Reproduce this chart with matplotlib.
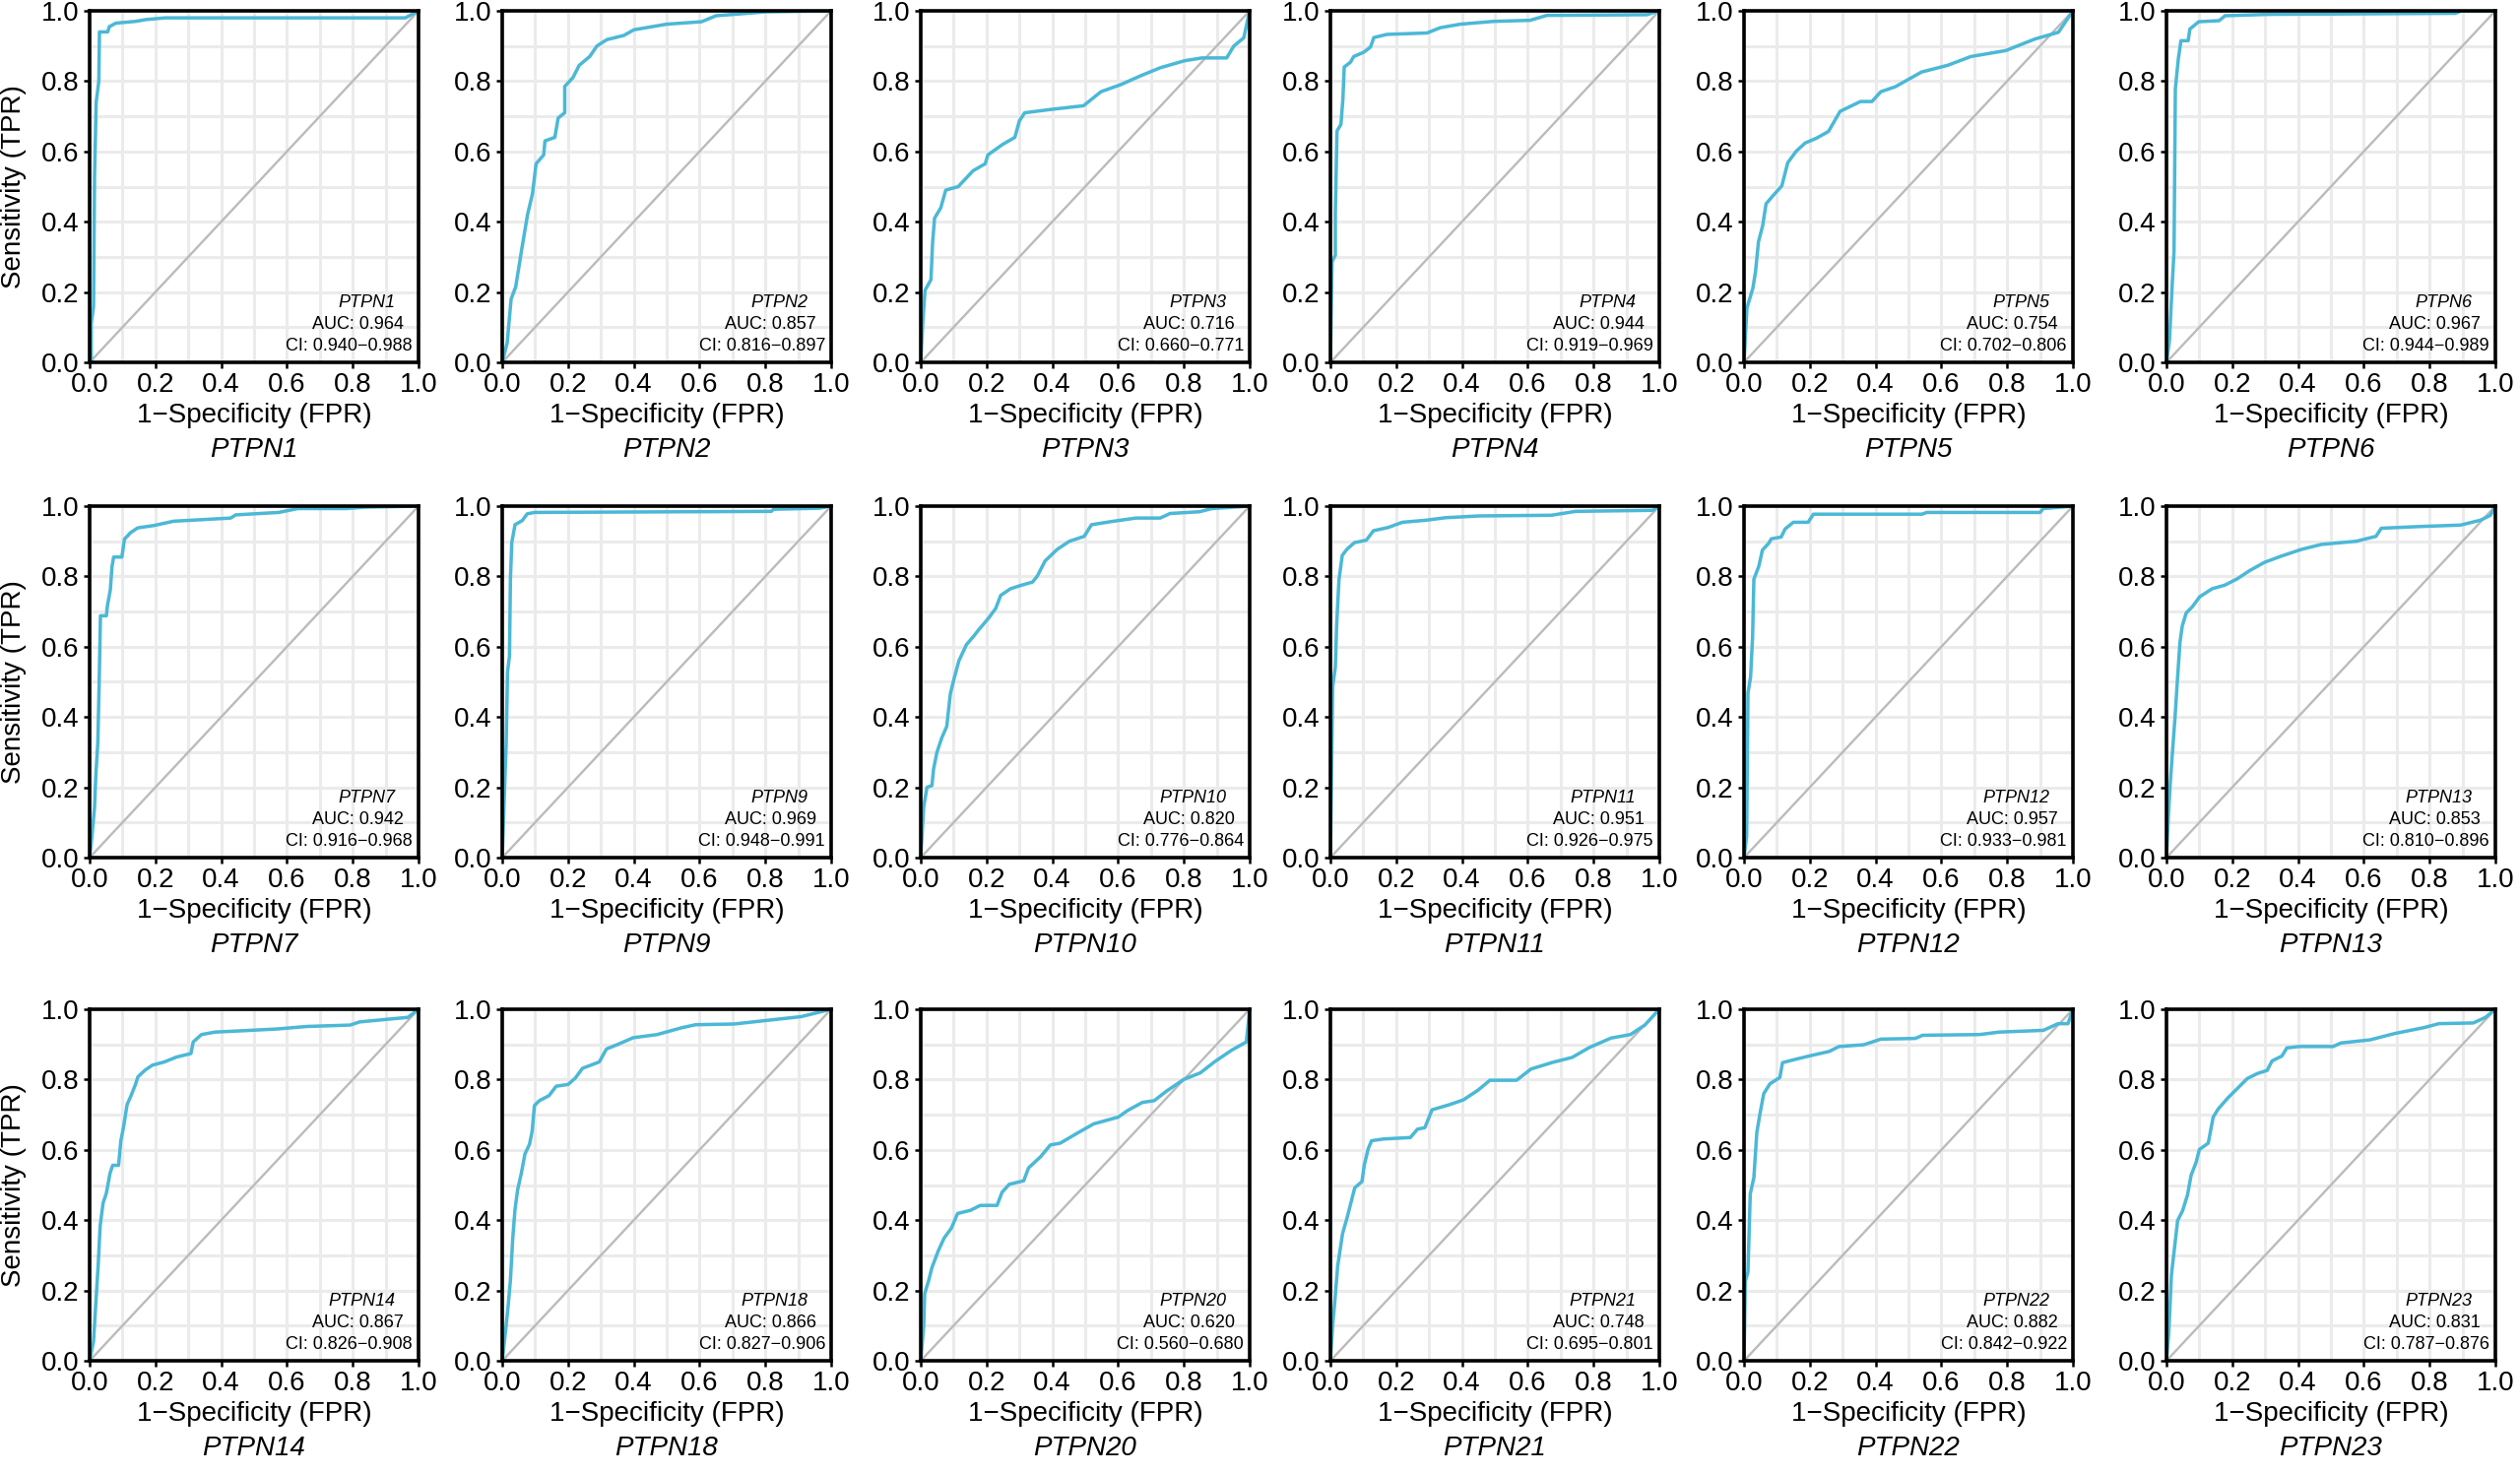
import matplotlib.pyplot as plt

plt.rcParams['font.family'] = ['Liberation Sans', 'DejaVu Sans']

# genes, AUC and confidence intervals
genes = ["PTPN1", "PTPN2", "PTPN3", "PTPN4", "PTPN5", "PTPN6",
         "PTPN7", "PTPN9", "PTPN10", "PTPN11", "PTPN12", "PTPN13",
         "PTPN14", "PTPN18", "PTPN20", "PTPN21", "PTPN22", "PTPN23"]
auc = ["0.964", "0.857", "0.716", "0.944", "0.754", "0.967",
       "0.942", "0.969", "0.820", "0.951", "0.957", "0.853",
       "0.867", "0.866", "0.620", "0.748", "0.882", "0.831"]
ci_low = ["0.940", "0.816", "0.660", "0.919", "0.702", "0.944",
          "0.916", "0.948", "0.776", "0.926", "0.933", "0.810",
          "0.826", "0.827", "0.560", "0.695", "0.842", "0.787"]
ci_high = ["0.988", "0.897", "0.771", "0.969", "0.806", "0.989",
           "0.968", "0.991", "0.864", "0.975", "0.981", "0.896",
           "0.908", "0.906", "0.680", "0.801", "0.922", "0.876"]

# ROC curves (1-specificity, sensitivity)
PTPN1_fpr = [0, 0.005, 0.005, 0.012, 0.015, 0.02, 0.028, 0.03, 0.055, 0.06, 0.08, 0.14, 0.17, 0.23, 0.96, 1.0]
PTPN1_tpr = [0, 0.0, 0.11, 0.16, 0.53, 0.74, 0.80, 0.94, 0.94, 0.955, 0.965, 0.97, 0.975, 0.98, 0.98, 1.0]

PTPN2_fpr = [0, 0.015, 0.027, 0.041, 0.059, 0.077, 0.092, 0.103, 0.126, 0.13, 0.16, 0.17, 0.19, 0.19, 0.215,
             0.234, 0.266, 0.288, 0.318, 0.37, 0.40, 0.50, 0.606, 0.65, 0.80, 1.0]
PTPN2_tpr = [0, 0.055, 0.18, 0.215, 0.32, 0.42, 0.48, 0.565, 0.59, 0.63, 0.64, 0.695, 0.71, 0.785, 0.81,
             0.845, 0.87, 0.90, 0.918, 0.93, 0.946, 0.962, 0.969, 0.986, 0.997, 1.0]

PTPN3_fpr = [0, 0.006, 0.013, 0.031, 0.036, 0.042, 0.061, 0.076, 0.114, 0.159, 0.196, 0.204, 0.249, 0.286,
             0.30, 0.316, 0.40, 0.495, 0.548, 0.608, 0.668, 0.728, 0.802, 0.855, 0.93, 0.952, 0.982, 1.0]
PTPN3_tpr = [0, 0.11, 0.205, 0.235, 0.34, 0.41, 0.44, 0.49, 0.50, 0.545, 0.565, 0.59, 0.62, 0.64,
             0.687, 0.71, 0.72, 0.73, 0.77, 0.79, 0.815, 0.838, 0.858, 0.866, 0.866, 0.90, 0.923, 1.0]

PTPN4_fpr = [0, 0.005, 0.015, 0.015, 0.02, 0.032, 0.038, 0.042, 0.061, 0.071, 0.101, 0.122, 0.132, 0.172,
             0.294, 0.334, 0.395, 0.496, 0.607, 0.658, 0.962, 1.0]
PTPN4_tpr = [0, 0.286, 0.305, 0.425, 0.658, 0.677, 0.749, 0.84, 0.854, 0.87, 0.882, 0.897, 0.924, 0.933,
             0.937, 0.952, 0.962, 0.97, 0.973, 0.987, 0.989, 1.0]

PTPN5_fpr = [0, 0.009, 0.027, 0.035, 0.044, 0.057, 0.067, 0.088, 0.115, 0.133, 0.159, 0.186, 0.221, 0.257,
             0.292, 0.354, 0.389, 0.416, 0.46, 0.54, 0.619, 0.69, 0.796, 0.885, 0.956, 1.0]
PTPN5_tpr = [0, 0.155, 0.211, 0.258, 0.343, 0.39, 0.451, 0.474, 0.502, 0.568, 0.601, 0.624, 0.638, 0.657,
             0.714, 0.742, 0.742, 0.770, 0.784, 0.826, 0.845, 0.87, 0.887, 0.92, 0.939, 1.0]

PTPN6_fpr = [0, 0.009, 0.018, 0.023, 0.027, 0.036, 0.044, 0.066, 0.071, 0.098, 0.16, 0.178, 0.311, 0.879, 0.897, 1.0]
PTPN6_tpr = [0, 0.061, 0.231, 0.316, 0.778, 0.863, 0.915, 0.915, 0.948, 0.969, 0.972, 0.986, 0.99, 0.993, 1.0, 1.0]

PTPN7_fpr = [0, 0.007, 0.015, 0.019, 0.025, 0.029, 0.033, 0.051, 0.054, 0.063, 0.068, 0.073, 0.098, 0.106,
             0.124, 0.146, 0.197, 0.255, 0.429, 0.444, 0.575, 0.633, 0.779, 0.837, 1.0]
PTPN7_tpr = [0, 0.06, 0.143, 0.235, 0.328, 0.494, 0.688, 0.688, 0.716, 0.762, 0.827, 0.855, 0.855, 0.906,
             0.924, 0.938, 0.945, 0.957, 0.966, 0.975, 0.982, 0.993, 0.993, 0.997, 1.0]

PTPN9_fpr = [0, 0.007, 0.012, 0.016, 0.022, 0.025, 0.029, 0.039, 0.061, 0.076, 0.098, 0.818, 0.825, 0.964, 1.0]
PTPN9_tpr = [0, 0.194, 0.323, 0.527, 0.573, 0.795, 0.896, 0.947, 0.959, 0.978, 0.982, 0.985, 0.991, 0.994, 1.0]

PTPN10_fpr = [0, 0.009, 0.019, 0.034, 0.039, 0.049, 0.064, 0.079, 0.09, 0.101, 0.116, 0.139, 0.161, 0.176,
              0.206, 0.228, 0.243, 0.273, 0.303, 0.34, 0.355, 0.378, 0.415, 0.452, 0.497, 0.519, 0.579,
              0.654, 0.728, 0.758, 0.848, 0.885, 1.0]
PTPN10_tpr = [0, 0.145, 0.2, 0.205, 0.252, 0.299, 0.341, 0.373, 0.466, 0.508, 0.56, 0.606, 0.63, 0.648,
              0.681, 0.709, 0.746, 0.765, 0.774, 0.784, 0.802, 0.844, 0.877, 0.9, 0.914, 0.947, 0.956,
              0.966, 0.966, 0.979, 0.984, 0.993, 1.0]

PTPN11_fpr = [0, 0.007, 0.015, 0.019, 0.026, 0.036, 0.051, 0.073, 0.109, 0.131, 0.175, 0.219, 0.292, 0.35,
              0.453, 0.672, 0.745, 0.98, 1.0]
PTPN11_tpr = [0, 0.487, 0.542, 0.662, 0.79, 0.86, 0.878, 0.896, 0.903, 0.93, 0.939, 0.954, 0.96, 0.967,
              0.972, 0.974, 0.985, 0.988, 1.0]

PTPN12_fpr = [0, 0.008, 0.012, 0.02, 0.026, 0.03, 0.045, 0.056, 0.075, 0.083, 0.113, 0.125, 0.15, 0.195,
              0.211, 0.541, 0.556, 0.9, 0.91, 1.0]
PTPN12_tpr = [0, 0.06, 0.468, 0.514, 0.625, 0.792, 0.829, 0.875, 0.894, 0.907, 0.912, 0.935, 0.954, 0.954,
              0.977, 0.977, 0.982, 0.982, 0.993, 1.0]

PTPN13_fpr = [0, 0.006, 0.011, 0.018, 0.026, 0.033, 0.041, 0.048, 0.06, 0.079, 0.101, 0.139, 0.177, 0.215,
              0.252, 0.298, 0.35, 0.411, 0.471, 0.577, 0.637, 0.653, 0.773, 0.894, 0.955, 0.985, 1.0]
PTPN13_tpr = [0, 0.121, 0.204, 0.297, 0.399, 0.501, 0.612, 0.659, 0.696, 0.714, 0.742, 0.765, 0.775, 0.793,
              0.816, 0.84, 0.858, 0.877, 0.891, 0.9, 0.914, 0.937, 0.942, 0.946, 0.96, 0.974, 1.0]

PTPN14_fpr = [0, 0.012, 0.018, 0.026, 0.032, 0.041, 0.051, 0.062, 0.07, 0.088, 0.095, 0.103, 0.114, 0.125,
              0.139, 0.147, 0.169, 0.191, 0.227, 0.264, 0.308, 0.315, 0.34, 0.381, 0.469, 0.572, 0.66,
              0.792, 0.821, 0.968, 1.0]
PTPN14_tpr = [0, 0.056, 0.15, 0.271, 0.383, 0.449, 0.477, 0.533, 0.556, 0.556, 0.626, 0.664, 0.729, 0.752,
              0.785, 0.808, 0.827, 0.841, 0.85, 0.864, 0.874, 0.907, 0.928, 0.935, 0.939, 0.944, 0.951,
              0.955, 0.964, 0.977, 1.0]

PTPN18_fpr = [0, 0.01, 0.018, 0.025, 0.032, 0.039, 0.047, 0.058, 0.069, 0.083, 0.091, 0.098, 0.113, 0.142,
              0.164, 0.2, 0.222, 0.244, 0.295, 0.317, 0.354, 0.398, 0.471, 0.544, 0.588, 0.705, 0.792,
              0.909, 1.0]
PTPN18_tpr = [0, 0.083, 0.156, 0.23, 0.349, 0.432, 0.487, 0.533, 0.588, 0.616, 0.653, 0.726, 0.74, 0.754,
              0.781, 0.786, 0.804, 0.832, 0.85, 0.887, 0.901, 0.919, 0.928, 0.947, 0.956, 0.958, 0.967,
              0.979, 1.0]

PTPN20_fpr = [0, 0.009, 0.012, 0.024, 0.034, 0.053, 0.071, 0.093, 0.112, 0.151, 0.181, 0.232, 0.247, 0.269,
              0.313, 0.328, 0.365, 0.394, 0.424, 0.475, 0.526, 0.6, 0.629, 0.674, 0.71, 0.747, 0.799,
              0.85, 0.894, 0.946, 0.99, 1.0]
PTPN20_tpr = [0, 0.098, 0.191, 0.228, 0.265, 0.312, 0.349, 0.377, 0.419, 0.428, 0.442, 0.442, 0.479, 0.502,
              0.512, 0.549, 0.581, 0.614, 0.619, 0.647, 0.674, 0.693, 0.712, 0.735, 0.74, 0.767, 0.8,
              0.819, 0.851, 0.884, 0.907, 1.0]

PTPN21_fpr = [0, 0.007, 0.015, 0.022, 0.037, 0.051, 0.074, 0.096, 0.103, 0.115, 0.125, 0.162, 0.243, 0.265,
              0.287, 0.309, 0.36, 0.404, 0.449, 0.485, 0.566, 0.61, 0.676, 0.735, 0.787, 0.853, 0.912,
              0.956, 1.0]
PTPN21_tpr = [0, 0.102, 0.186, 0.269, 0.362, 0.408, 0.492, 0.51, 0.557, 0.603, 0.626, 0.631, 0.635, 0.659,
              0.663, 0.714, 0.728, 0.742, 0.77, 0.798, 0.798, 0.83, 0.849, 0.863, 0.891, 0.918, 0.928,
              0.955, 1.0]

PTPN22_fpr = [0, 0.004, 0.012, 0.019, 0.03, 0.039, 0.049, 0.06, 0.079, 0.109, 0.117, 0.154, 0.207, 0.259,
              0.289, 0.364, 0.416, 0.521, 0.543, 0.716, 0.775, 0.91, 0.955, 0.985, 1.0]
PTPN22_tpr = [0, 0.226, 0.253, 0.475, 0.521, 0.65, 0.705, 0.76, 0.788, 0.806, 0.848, 0.857, 0.869, 0.88,
              0.894, 0.899, 0.915, 0.917, 0.926, 0.928, 0.935, 0.94, 0.959, 0.959, 1.0]

PTPN23_fpr = [0, 0.007, 0.015, 0.025, 0.034, 0.049, 0.064, 0.075, 0.09, 0.1, 0.127, 0.142, 0.157, 0.187,
              0.216, 0.246, 0.276, 0.306, 0.321, 0.351, 0.366, 0.403, 0.507, 0.53, 0.619, 0.694, 0.784,
              0.828, 0.933, 0.97, 1.0]
PTPN23_tpr = [0, 0.078, 0.243, 0.326, 0.399, 0.427, 0.472, 0.528, 0.564, 0.601, 0.619, 0.693, 0.716, 0.748,
              0.775, 0.803, 0.817, 0.826, 0.853, 0.867, 0.89, 0.894, 0.894, 0.904, 0.913, 0.931, 0.948,
              0.959, 0.961, 0.977, 1.0]

curves = {
    "PTPN1": (PTPN1_fpr, PTPN1_tpr), "PTPN2": (PTPN2_fpr, PTPN2_tpr),
    "PTPN3": (PTPN3_fpr, PTPN3_tpr), "PTPN4": (PTPN4_fpr, PTPN4_tpr),
    "PTPN5": (PTPN5_fpr, PTPN5_tpr), "PTPN6": (PTPN6_fpr, PTPN6_tpr),
    "PTPN7": (PTPN7_fpr, PTPN7_tpr), "PTPN9": (PTPN9_fpr, PTPN9_tpr),
    "PTPN10": (PTPN10_fpr, PTPN10_tpr), "PTPN11": (PTPN11_fpr, PTPN11_tpr),
    "PTPN12": (PTPN12_fpr, PTPN12_tpr), "PTPN13": (PTPN13_fpr, PTPN13_tpr),
    "PTPN14": (PTPN14_fpr, PTPN14_tpr), "PTPN18": (PTPN18_fpr, PTPN18_tpr),
    "PTPN20": (PTPN20_fpr, PTPN20_tpr), "PTPN21": (PTPN21_fpr, PTPN21_tpr),
    "PTPN22": (PTPN22_fpr, PTPN22_tpr), "PTPN23": (PTPN23_fpr, PTPN23_tpr),
}

major = [0, 0.2, 0.4, 0.6, 0.8, 1.0]
major_labels = ["0.0", "0.2", "0.4", "0.6", "0.8", "1.0"]
minor = [0.1, 0.3, 0.5, 0.7, 0.9]

W, H = 2559, 1497
fig = plt.figure(figsize=(W / 100, H / 100), dpi=100)

# panel positions in pixels
col_left = [91, 510, 935, 1351, 1771, 2200]
row_top = [11, 514, 1025]
pw, ph = 334, 357

line_col = "#4BB8D6"

for k, gene in enumerate(genes):
    r, c = divmod(k, 6)
    ax = fig.add_axes([col_left[c] / W, 1 - (row_top[r] + ph) / H, pw / W, ph / H])
    ax.set_xlim(0, 1)
    ax.set_ylim(0, 1)
    ax.set_xticks(major)
    ax.set_xticklabels(major_labels)
    ax.set_yticks(major)
    ax.set_yticklabels(major_labels)
    ax.set_xticks(minor, minor=True)
    ax.set_yticks(minor, minor=True)
    ax.grid(which="both", color="#EBEBEB", linewidth=2.2)
    ax.set_axisbelow(True)
    ax.tick_params(which="major", direction="out", length=4, width=1.8, labelsize=20, pad=3.5, color="black")
    ax.tick_params(which="minor", length=0)
    for sp in ax.spines.values():
        sp.set_linewidth(2.6)
        sp.set_color("black")

    ax.plot([0, 1], [0, 1], color="#BBBBBB", linewidth=1.7)
    fx, ty = curves[gene]
    ax.plot(fx, ty, color=line_col, linewidth=2.5)

    # annotation in the lower right corner
    ax.text(1 - 24 / pw, 60 / ph, gene, transform=ax.transAxes, ha="right", va="center",
            fontsize=13, style="italic")
    ax.text(1 - 15 / pw, 38 / ph, "AUC: " + auc[k], transform=ax.transAxes, ha="right", va="center",
            fontsize=13)
    ax.text(1 - 6 / pw, 16 / ph, "CI: " + ci_low[k] + "\u2212" + ci_high[k], transform=ax.transAxes,
            ha="right", va="center", fontsize=13)

    # x title and gene name below the axis
    ax.text(0.5, -54 / ph, "1\u2212Specificity (FPR)", transform=ax.transAxes, ha="center", va="center",
            fontsize=20)
    ax.text(0.5, -89 / ph, gene, transform=ax.transAxes, ha="center", va="center",
            fontsize=20, style="italic")

    if c == 0:
        fig.text(14 / W, 1 - (row_top[r] + ph / 2) / H, "Sensitivity (TPR)", rotation=90,
                 ha="center", va="center", fontsize=20)

fig.savefig("out.png", dpi=100, facecolor="white")
